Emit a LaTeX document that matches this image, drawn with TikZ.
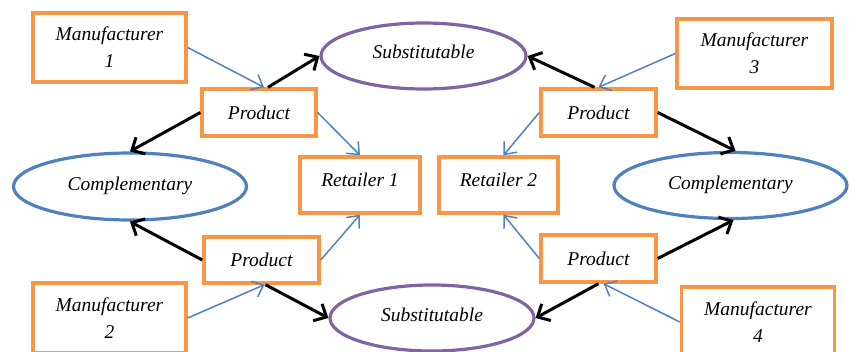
\documentclass[tikz,border=0pt]{standalone}
\usepackage{fontspec}
\setmainfont{Liberation Serif}
\usetikzlibrary{shapes.geometric,arrows.meta}
\definecolor{boxorange}{HTML}{F79646}
\definecolor{ellblue}{HTML}{4F81BD}
\definecolor{ellpurple}{HTML}{8064A2}
\tikzset{
  box/.style={draw=boxorange, line width=3.4pt, inner sep=0pt, align=center,
    font=\fontsize{19.5}{27}\selectfont\itshape},
  oval/.style={ellipse, line width=3.2pt, inner sep=0pt,
    font=\fontsize{19.5}{27}\selectfont\itshape},
  supply/.style={draw=ellblue, line width=1.5pt, -{Straight Barb[length=10pt,width=17pt]}},
  relation/.style={draw=black, line width=3pt, -{Straight Barb[length=10pt,width=19pt]}}
}
\begin{document}
\begin{tikzpicture}[x=1pt, y=-1pt]
\clip (0,0) rectangle (849,351);
\useasboundingbox (0,0) rectangle (849,351);

% manufacturers
\node[box, minimum width=153pt, minimum height=69pt] (m1) at (109.5,47.5) {Manufacturer\\1};
\node[box, minimum width=153pt, minimum height=70pt] (m2) at (109.5,318) {Manufacturer\\2};
\node[box, minimum width=155pt, minimum height=69pt] (m3) at (754.5,53.5) {Manufacturer\\3};
\node[box, minimum width=153pt, minimum height=70pt] (m4) at (758,322) {Manufacturer\\4};

% products
\node[box, minimum width=114pt, minimum height=47pt] (p1) at (259,112.5) {Product};
\node[box, minimum width=115pt, minimum height=46pt] (p2) at (261.5,260) {Product};
\node[box, minimum width=115pt, minimum height=47pt] (p3) at (598.5,112.5) {Product};
\node[box, minimum width=115pt, minimum height=47pt] (p4) at (598.5,258.5) {Product};

% retailers
\node[box, text depth=11pt, minimum width=120pt, minimum height=56pt] (r1) at (360,185) {Retailer 1};
\node[box, text depth=11pt, minimum width=119pt, minimum height=56pt] (r2) at (498.5,185) {Retailer 2};

% relations
\node[oval, draw=ellpurple, text depth=8pt, minimum width=205pt, minimum height=66pt] (sub1) at (423.5,56) {Substitutable};
\node[oval, draw=ellpurple, text depth=6pt, minimum width=204pt, minimum height=66pt] (sub2) at (432,318) {Substitutable};
\node[oval, draw=ellblue, text depth=6pt, minimum width=233pt, minimum height=67pt] (comp1) at (130,186.5) {Complementary};
\node[oval, draw=ellblue, text depth=6pt, minimum width=233pt, minimum height=66pt] (comp2) at (730.5,185.5) {Complementary};

\draw[supply] (m1.east) -- ([xshift=5pt]p1.north);
\draw[supply] (p1.east) -- (r1.north);
\draw[supply] (m2.east) -- ([xshift=3pt]p2.south);
\draw[supply] (p2.east) -- (r2.south -| r1.south);
\draw[supply] (m3.west) -- (p3.north);
\draw[supply] (p3.west) -- ([xshift=5pt]r2.north);
\draw[supply] (p4.west) -- ([xshift=5pt]r2.south);
\draw[supply] (m4.west) -- ([xshift=5pt]p4.south);

\draw[relation] ([xshift=9pt]p1.north) -- (sub1.west);
\draw[relation] (p1.west) -- (comp1.north);
\draw[relation] (p2.west) -- (comp1.south);
\draw[relation] ([xshift=4pt]p2.south) -- (sub2.west);
\draw[relation] ([xshift=-4pt]p3.north) -- (sub1.east);
\draw[relation] (p3.east) -- ([xshift=5pt]comp2.north);
\draw[relation] (p4.east) -- ([xshift=3pt]comp2.south);
\draw[relation] (p4.south) -- (sub2.east);

\end{tikzpicture}
\end{document}
